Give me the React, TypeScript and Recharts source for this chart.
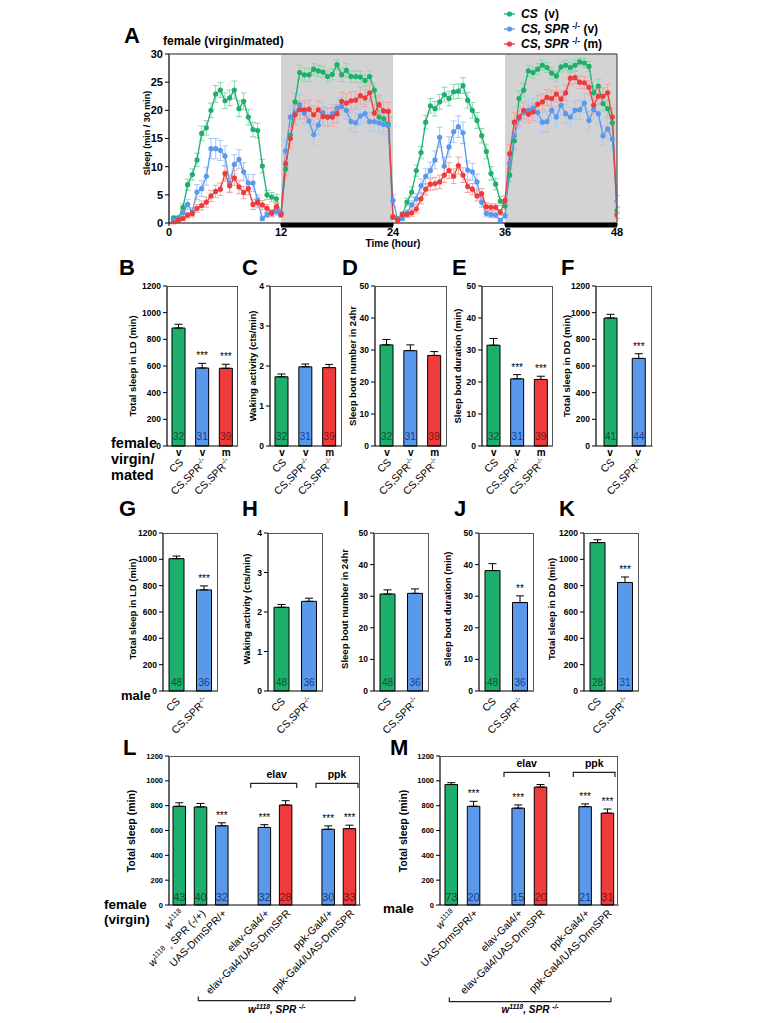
import React from 'react';
import { LineChart, Line, XAxis, YAxis, ErrorBar, ReferenceArea, BarChart, Bar, LabelList, Cell } from 'recharts';

const FONT = '"Liberation Sans", Arial, Helvetica, sans-serif';
const GREEN = '#1cb06c';
const BLUE = '#5a98ec';
const RED = '#ef3b3b';
const GREEN_ERR = '#8ad8b2';
const BLUE_ERR = '#abc8f3';
const RED_ERR = '#f5a3a3';
const FILL: Record<string, string> = { g: GREEN, b: BLUE, r: RED };
const TXT: Record<string, string> = { g: '#0d4f2f', b: '#183c86', r: '#7d1111' };

// ---------- Panel A data ----------
const hours = [0.5, 1, 1.5, 2, 2.5, 3, 3.5, 4, 4.5, 5, 5.5, 6, 6.5, 7, 7.5, 8, 8.5, 9, 9.5, 10, 10.5, 11, 11.5, 12,
  12.5, 13, 13.5, 14, 14.5, 15, 15.5, 16, 16.5, 17, 17.5, 18, 18.5, 19, 19.5, 20, 20.5, 21, 21.5, 22, 22.5, 23, 23.5, 24,
  24.5, 25, 25.5, 26, 26.5, 27, 27.5, 28, 28.5, 29, 29.5, 30, 30.5, 31, 31.5, 32, 32.5, 33, 33.5, 34, 34.5, 35, 35.5, 36,
  36.5, 37, 37.5, 38, 38.5, 39, 39.5, 40, 40.5, 41, 41.5, 42, 42.5, 43, 43.5, 44, 44.5, 45, 45.5, 46, 46.5, 47, 47.5, 48];

const csV = [0.9, 0.9, 2.8, 6.8, 8.6, 11.2, 15.9, 16.9, 20.0, 22.9, 23.6, 21.7, 22.2, 23.6, 20.3, 21.6, 18.8, 16.6, 16.4, 10.1, 5.0, 4.6, 4.3, 1.5,
  9.6, 15.6, 21.5, 26.7, 26.3, 26.3, 27.3, 27.0, 26.8, 26.0, 26.4, 28.1, 26.3, 27.1, 26.0, 26.0, 25.9, 25.3, 26.0, 23.6, 18.8, 18.5, 17.5, 1.0,
  0.8, 1.5, 3.7, 5.5, 9.3, 12.5, 17.9, 20.8, 20.3, 21.5, 22.8, 22.1, 23.3, 23.4, 24.4, 21.8, 20.0, 18.2, 15.5, 12.7, 8.8, 6.9, 3.9, 3.0,
  8.5, 14.6, 22.1, 23.6, 27.0, 26.7, 27.3, 28.0, 27.6, 26.6, 26.1, 27.7, 28.0, 27.6, 28.0, 28.6, 28.4, 27.8, 23.1, 24.3, 21.2, 20.3, 17.8, 2.2];
const csVErr = [0.3, 0.3, 0.6, 1.0, 1.0, 1.2, 1.3, 1.3, 1.3, 1.5, 1.3, 1.4, 1.4, 1.6, 1.4, 1.5, 1.4, 1.3, 1.3, 1.2, 0.8, 0.8, 0.8, 0.5,
  1.2, 1.5, 1.5, 1.3, 1.2, 1.2, 1.0, 1.0, 1.0, 1.0, 1.0, 0.9, 1.2, 1.2, 1.0, 1.0, 1.0, 1.0, 1.0, 1.2, 1.2, 1.2, 1.2, 0.4,
  0.3, 0.5, 0.7, 0.9, 1.0, 1.1, 1.2, 1.3, 1.3, 1.3, 1.3, 1.3, 1.3, 1.3, 1.4, 1.4, 1.4, 1.4, 1.3, 1.3, 1.2, 1.0, 0.8, 0.6,
  1.2, 1.5, 1.4, 1.2, 1.0, 1.0, 1.0, 0.9, 0.9, 1.0, 1.0, 0.9, 0.9, 0.9, 0.9, 0.7, 0.8, 0.9, 1.2, 1.2, 1.3, 1.4, 1.5, 0.5];

const sprV = [0.5, 0.8, 1.8, 3.3, 2.0, 5.5, 6.1, 8.3, 13.2, 13.2, 12.9, 11.9, 7.0, 10.4, 11.3, 9.1, 7.1, 7.1, 4.0, 0.8, 1.5, 1.7, 2.0, 1.8,
  12.8, 18.8, 19.5, 21.0, 19.5, 18.1, 15.7, 17.4, 19.6, 18.8, 19.4, 20.4, 20.7, 20.0, 18.0, 17.8, 19.0, 19.4, 18.0, 18.0, 17.8, 17.5, 17.3, 4.0,
  0.7, 0.8, 1.8, 3.2, 4.3, 6.6, 8.3, 9.3, 11.2, 15.2, 10.1, 13.5, 16.2, 17.1, 16.0, 9.4, 9.1, 7.3, 3.7, 1.7, 1.5, 1.4, 0.5, 1.3,
  10.5, 15.5, 18.5, 19.6, 20.0, 20.4, 19.6, 17.9, 18.0, 20.0, 18.8, 20.9, 19.4, 18.8, 20.0, 20.1, 21.3, 18.2, 20.1, 19.4, 15.5, 16.7, 14.9, 3.9];
const sprVErr = [0.3, 0.4, 0.6, 0.9, 0.7, 1.3, 1.4, 1.6, 1.8, 1.8, 1.8, 1.8, 1.5, 1.7, 1.7, 1.6, 1.5, 1.5, 1.0, 0.4, 0.5, 0.6, 0.6, 0.6,
  1.8, 2.0, 2.0, 1.8, 1.8, 1.8, 1.7, 1.7, 1.7, 1.6, 1.6, 1.6, 1.6, 1.6, 1.7, 1.7, 1.6, 1.6, 1.6, 1.7, 1.7, 1.7, 1.6, 1.0,
  0.3, 0.4, 0.6, 0.8, 0.9, 1.2, 1.4, 1.5, 1.6, 1.8, 1.6, 1.8, 1.9, 1.9, 1.9, 1.6, 1.5, 1.4, 0.9, 0.6, 0.5, 0.5, 0.3, 0.5,
  1.8, 2.0, 1.8, 1.7, 1.7, 1.7, 1.7, 1.8, 1.8, 1.7, 1.7, 1.7, 1.7, 1.7, 1.7, 1.7, 1.7, 1.7, 1.8, 1.7, 1.7, 1.8, 1.8, 1.0];

const sprM = [0.0, 0.5, 0.8, 1.4, 1.7, 2.6, 3.1, 3.7, 4.8, 5.6, 6.0, 8.8, 6.6, 8.0, 6.4, 5.4, 6.1, 3.3, 3.6, 3.2, 2.6, 1.8, 2.9, 1.5,
  10.5, 15.0, 19.2, 20.1, 20.1, 20.2, 19.2, 20.1, 18.9, 18.8, 18.8, 19.4, 21.6, 21.3, 21.7, 21.8, 22.6, 22.2, 23.1, 19.5, 21.0, 19.9, 19.8, 1.1,
  0.5, 1.5, 1.5, 1.8, 2.5, 4.3, 6.0, 6.9, 7.0, 7.3, 8.5, 9.3, 8.3, 10.2, 8.5, 6.5, 6.0, 4.8, 5.2, 2.9, 2.8, 2.8, 1.9, 4.0,
  12.3, 17.9, 18.8, 20.0, 19.3, 19.7, 21.1, 21.5, 22.3, 22.1, 22.9, 22.0, 23.1, 25.7, 25.8, 25.0, 24.9, 24.1, 20.9, 22.5, 22.5, 23.1, 18.8, 1.4];
const sprMErr = [0.2, 0.3, 0.4, 0.5, 0.6, 0.7, 0.8, 0.9, 1.0, 1.1, 1.1, 1.4, 1.2, 1.3, 1.2, 1.1, 1.1, 0.9, 0.9, 0.8, 0.7, 0.6, 0.7, 0.5,
  1.6, 1.8, 1.7, 1.6, 1.6, 1.6, 1.6, 1.6, 1.6, 1.6, 1.6, 1.6, 1.6, 1.6, 1.6, 1.6, 1.5, 1.5, 1.5, 1.6, 1.6, 1.6, 1.6, 0.4,
  0.3, 0.4, 0.5, 0.6, 0.7, 0.9, 1.0, 1.1, 1.1, 1.2, 1.3, 1.4, 1.3, 1.5, 1.3, 1.1, 1.0, 0.9, 0.9, 0.7, 0.6, 0.6, 0.5, 0.8,
  1.6, 1.7, 1.6, 1.5, 1.5, 1.5, 1.5, 1.4, 1.4, 1.4, 1.4, 1.4, 1.4, 1.2, 1.1, 1.1, 1.1, 1.2, 1.3, 1.4, 1.5, 1.5, 1.6, 0.6];

const darkPeriods = [[12, 24], [36, 48]];
const hourTicks = [0, 12, 24, 36, 48];
const sleepTicks = [0, 5, 10, 15, 20, 25, 30];
const legendLabels = ['~CS~  (v)', '~CS, SPR~ ^-/-^ (v)', '~CS, SPR~ ^-/-^ (m)'];
const legendColors = [GREEN, BLUE, RED];

// ---------- Bar panel data ----------
const ticks1200 = [0, 200, 400, 600, 800, 1000, 1200];
const ticks4 = [0, 1, 2, 3, 4];
const ticks50 = [0, 10, 20, 30, 40, 50];

const femaleGenos = ['CS', 'CS,SPR^-/-^', 'CS,SPR^-/-^'];
const femaleStatus = ['v', 'v', 'm'];
const femaleColors = ['g', 'b', 'r'];
const femaleN = [32, 31, 39];
const ddGenos = ['CS', 'CS,SPR^-/-^'];
const ddStatus = ['v', 'v'];
const ddColors = ['g', 'b'];
const ddN = [41, 44];
const maleGenos = ['CS', 'CS,SPR^-/-^'];
const maleColors = ['g', 'b'];
const maleN = [48, 36];
const maleDDN = [28, 31];

const sleepLDf = [885, 585, 583];
const sleepLDfErr = [28, 35, 30];
const sleepLDfSig = ['', '***', '***'];
const wakeF = [1.73, 1.98, 1.96];
const wakeFErr = [0.07, 0.07, 0.08];
const boutsF = [31.6, 29.8, 28.3];
const boutsFErr = [1.7, 1.8, 1.2];
const boutDurF = [31.5, 21.0, 20.8];
const boutDurFErr = [2.1, 1.3, 1.0];
const boutDurFSig = ['', '***', '***'];
const sleepDDf = [960, 657];
const sleepDDfErr = [28, 35];
const sleepDDfSig = ['', '***'];
const noSig3 = ['', '', ''];
const noSig2 = ['', ''];

const sleepLDm = [1005, 768];
const sleepLDmErr = [20, 30];
const sleepLDmSig = ['', '***'];
const wakeM = [2.12, 2.27];
const wakeMErr = [0.07, 0.08];
const boutsM = [30.7, 30.9];
const boutsMErr = [1.3, 1.4];
const boutDurM = [38.1, 28.0];
const boutDurMErr = [2.2, 2.1];
const boutDurMSig = ['', '**'];
const sleepDDm = [1127, 824];
const sleepDDmErr = [22, 42];
const sleepDDmSig = ['', '***'];

const lGenos = ['~w~^1118^', '~w~^1118^ , SPR (-/+)', 'UAS-DrmSPR/+', '', 'elav-Gal4/+', 'elav-Gal4/UAS-DrmSPR', '', 'ppk-Gal4/+', 'ppk-Gal4/UAS-DrmSPR'];
const lValues = [795, 790, 638, null, 625, 805, null, 610, 615];
const lErr = [28, 28, 24, null, 22, 35, null, 27, 28];
const lN = [43, 40, 32, null, 32, 28, null, 30, 33];
const lColors = ['g', 'g', 'b', '', 'b', 'r', '', 'b', 'r'];
const lSig = ['', '', '***', '', '***', '', '', '***', '***'];

const mGenos = ['~w~^1118^', 'UAS-DrmSPR/+', '', 'elav-Gal4/+', 'elav-Gal4/UAS-DrmSPR', '', 'ppk-Gal4/+', 'ppk-Gal4/UAS-DrmSPR'];
const mValues = [970, 795, null, 780, 950, null, 792, 740];
const mErr = [15, 40, null, 26, 20, null, 22, 33];
const mN = [73, 20, null, 15, 20, null, 21, 31];
const mColors = ['g', 'b', '', 'b', 'r', '', 'b', 'r'];
const mSig = ['', '***', '', '***', '', '', '***', '***'];

// ---------- helpers ----------
function rich(s: string, fs: number) {
  const parts: { t: string; it: boolean; sup: boolean }[] = [];
  let it = false, sup = false, buf = '';
  const flush = () => { if (buf) { parts.push({ t: buf, it, sup }); buf = ''; } };
  for (const ch of s) {
    if (ch === '~') { flush(); it = !it; }
    else if (ch === '^') { flush(); sup = !sup; }
    else buf += ch;
  }
  flush();
  let cur = 0;
  return parts.map((p, i) => {
    const target = p.sup ? -fs * 0.38 : 0;
    const dy = target - cur;
    cur = target;
    return (
      <tspan key={i} dy={dy} fontSize={p.sup ? fs * 0.68 : fs} fontStyle={p.it ? 'italic' : 'normal'}>{p.t}</tspan>
    );
  });
}

type Spec = {
  x: number; y: number; w: number; h: number;
  labels: string[]; subs: string[] | null;
  values: (number | null)[]; errs: (number | null)[]; ns: (number | null)[];
  sigs: string[]; colors: string[];
  yMax: number; ticks: number[]; barSize: number;
  tickFs: number; labelFs: number; nFs: number; nOff: number;
  labelDx: number; labelDy: number; subDy: number; xAxisH: number; yW: number;
};

function BarPanel({ s }: { s: Spec }) {
  const mt = 8, mr = 3;
  const data = s.labels.map((lab, i) => ({
    key: 'k' + i,
    label: lab,
    sub: s.subs ? s.subs[i] : '',
    value: s.values[i],
    errV: s.errs[i],
    errArr: s.errs[i] == null ? null : [0, s.errs[i]],
    n: s.ns[i],
    sig: s.sigs[i],
    c: s.colors[i],
  }));
  const ppu = s.h / s.yMax;
  const renderTick = (props: any) => {
    const { x, y, payload } = props;
    const d = data.find((e) => e.key === payload.value);
    if (!d) return <g />;
    return (
      <g>
        {d.sub ? (
          <text x={x} y={y + s.subDy} textAnchor="middle" fontSize={10} fontWeight="bold" fill="#000">{d.sub}</text>
        ) : null}
        {d.label ? (
          <text transform={`translate(${x + s.labelDx},${y + s.labelDy}) rotate(-45)`} textAnchor="end" fontSize={s.labelFs} fill="#000" style={{ whiteSpace: 'pre' }}>
            {rich(d.label, s.labelFs)}
          </text>
        ) : null}
      </g>
    );
  };
  const nContent = (props: any) => {
    const { value } = props;
    if (value == null || value === '') return null;
    const vb = props.viewBox && props.viewBox.width != null ? props.viewBox : props;
    const { x, y, width, height } = vb;
    const [n, c] = String(value).split('|');
    const bottom = Math.max(y, y + height);
    return <text x={x + width / 2} y={bottom - s.nOff} textAnchor="middle" fontSize={s.nFs} fill={TXT[c]}>{n}</text>;
  };
  const sigContent = (props: any) => {
    const { value } = props;
    if (value == null || value === '') return null;
    const vb = props.viewBox && props.viewBox.width != null ? props.viewBox : props;
    const { x, y, width, height } = vb;
    const [sig, e] = String(value).split('|');
    const top = Math.min(y, y + height);
    return <text x={x + width / 2} y={top - Number(e) * ppu - 4} textAnchor="middle" fontSize={10} fill="#000">{sig}</text>;
  };
  return (
    <>
      <div style={{ position: 'absolute', left: s.x - s.yW, top: s.y - mt }}>
        <BarChart width={s.yW + s.w + mr} height={mt + s.h + s.xAxisH} data={data} margin={{ top: mt, right: mr, left: 0, bottom: 0 }} barCategoryGap={0}>
          <XAxis dataKey="key" type="category" interval={0} axisLine={{ stroke: '#000', strokeWidth: 1.2 }} tickLine={false} tickSize={0} tickMargin={0} height={s.xAxisH} tick={renderTick} />
          <YAxis domain={[0, s.yMax]} ticks={s.ticks} interval={0} width={s.yW} axisLine={{ stroke: '#000', strokeWidth: 1.2 }} tickLine={{ stroke: '#000' }} tickSize={4} tickMargin={2} tick={{ fontSize: s.tickFs, fontWeight: 'bold', fill: '#000' }} />
          <Bar dataKey="value" barSize={s.barSize} stroke="#000" strokeWidth={1} isAnimationActive={false}>
            {data.map((d, i) => <Cell key={i} fill={FILL[d.c] || '#fff'} />)}
            <ErrorBar dataKey="errArr" width={4} stroke="#000" strokeWidth={1} direction="y" isAnimationActive={false} />
            <LabelList dataKey={(d: any) => (d.n == null ? null : `${d.n}|${d.c}`)} content={nContent} />
            <LabelList dataKey={(d: any) => (d.sig ? `${d.sig}|${d.errV}` : null)} content={sigContent} />
          </Bar>
        </BarChart>
      </div>
      <div style={{ position: 'absolute', left: s.x, top: s.y, width: s.w, height: s.h, boxSizing: 'border-box', borderTop: '1px solid #555', borderRight: '1px solid #555', pointerEvents: 'none' }} />
    </>
  );
}

const row1 = { y: 286, h: 160, barSize: 13, tickFs: 8.5, labelFs: 10.5, nFs: 10, nOff: 6, labelDx: 5, labelDy: 17, subDy: 9.5, xAxisH: 66, yW: 36 };
const row2 = { y: 533, h: 158, barSize: 15, tickFs: 8.5, labelFs: 10.5, nFs: 10, nOff: 5, labelDx: 4, labelDy: 11, subDy: 0, xAxisH: 58, yW: 36 };
const row3 = { y: 756, h: 149, barSize: 12.5, tickFs: 7.5, labelFs: 10.5, nFs: 11, nOff: 4, labelDx: 5, labelDy: 9, subDy: 0, xAxisH: 100, yW: 34 };

const specs: Spec[] = [
  { ...row1, x: 167, w: 71, labels: femaleGenos, subs: femaleStatus, values: sleepLDf, errs: sleepLDfErr, ns: femaleN, sigs: sleepLDfSig, colors: femaleColors, yMax: 1200, ticks: ticks1200 },
  { ...row1, x: 270, w: 71.5, labels: femaleGenos, subs: femaleStatus, values: wakeF, errs: wakeFErr, ns: femaleN, sigs: noSig3, colors: femaleColors, yMax: 4, ticks: ticks4 },
  { ...row1, x: 375, w: 71.5, labels: femaleGenos, subs: femaleStatus, values: boutsF, errs: boutsFErr, ns: femaleN, sigs: noSig3, colors: femaleColors, yMax: 50, ticks: ticks50 },
  { ...row1, x: 481.5, w: 71, labels: femaleGenos, subs: femaleStatus, values: boutDurF, errs: boutDurFErr, ns: femaleN, sigs: boutDurFSig, colors: femaleColors, yMax: 50, ticks: ticks50 },
  { ...row1, x: 595.5, w: 56.5, labels: ddGenos, subs: ddStatus, values: sleepDDf, errs: sleepDDfErr, ns: ddN, sigs: sleepDDfSig, colors: ddColors, yMax: 1200, ticks: ticks1200 },
  { ...row2, x: 163, w: 55, labels: maleGenos, subs: null, values: sleepLDm, errs: sleepLDmErr, ns: maleN, sigs: sleepLDmSig, colors: maleColors, yMax: 1200, ticks: ticks1200 },
  { ...row2, x: 268, w: 55, labels: maleGenos, subs: null, values: wakeM, errs: wakeMErr, ns: maleN, sigs: noSig2, colors: maleColors, yMax: 4, ticks: ticks4 },
  { ...row2, x: 373.5, w: 55, labels: maleGenos, subs: null, values: boutsM, errs: boutsMErr, ns: maleN, sigs: noSig2, colors: maleColors, yMax: 50, ticks: ticks50 },
  { ...row2, x: 478.5, w: 55, labels: maleGenos, subs: null, values: boutDurM, errs: boutDurMErr, ns: maleN, sigs: boutDurMSig, colors: maleColors, yMax: 50, ticks: ticks50 },
  { ...row2, x: 583.5, w: 55, labels: maleGenos, subs: null, values: sleepDDm, errs: sleepDDmErr, ns: maleDDN, sigs: sleepDDmSig, colors: maleColors, yMax: 1200, ticks: ticks1200 },
  { ...row3, x: 168.5, w: 191.5, labels: lGenos, subs: null, values: lValues, errs: lErr, ns: lN, sigs: lSig, colors: lColors, yMax: 1200, ticks: ticks1200 },
  { ...row3, x: 439.5, w: 178.5, labels: mGenos, subs: null, values: mValues, errs: mErr, ns: mN, sigs: mSig, colors: mColors, yMax: 1200, ticks: ticks1200 },
];

const yTitles: [number, number, string, number][] = [
  [147, 133, 'Sleep (min / 30 min)', 9],
  [132.5, 366, 'Total sleep in LD (min)', 9.5],
  [252, 366, 'Waking activity (cts/min)', 9.5],
  [352.5, 366, 'Sleep bout number in 24hr', 9.5],
  [457.5, 366, 'Sleep bout duration (min)', 9.5],
  [566, 366, 'Total sleep in DD (min)', 9.5],
  [132, 609, 'Total sleep in LD (min)', 9.5],
  [246, 609, 'Waking activity (cts/min)', 9.5],
  [344, 609, 'Sleep bout number in 24hr', 9.5],
  [447.5, 609, 'Sleep bout duration (min)', 9.5],
  [551.5, 609, 'Total sleep in DD (min)', 9.5],
  [131, 831, 'Total sleep (min)', 10.5],
  [403, 831, 'Total sleep (min)', 10.5],
];

const letters: [string, number, number][] = [
  ['A', 124, 43], ['B', 119, 275], ['C', 242, 275], ['D', 342, 275], ['E', 452, 275], ['F', 561, 275],
  ['G', 119, 516], ['H', 242, 516], ['I', 343, 516], ['J', 454, 516], ['K', 559, 516],
  ['L', 123, 755], ['M', 390, 755],
];

export default function App() {
  const aData = hours.map((t, i) => ({ t, g: csV[i], ge: csVErr[i], b: sprV[i], be: sprVErr[i], r: sprM[i], re: sprMErr[i] }));
  return (
    <div style={{ position: 'absolute', left: 0, top: 0, width: 767, height: 1023, background: '#fff', fontFamily: FONT, overflow: 'hidden' }}>
      {/* Panel A */}
      <div style={{ position: 'absolute', left: 129, top: 49 }}>
        <LineChart width={502} height={199} data={aData} margin={{ top: 5, right: 14, left: 0, bottom: 0 }}>
          {darkPeriods.map((p, i) => (
            <ReferenceArea key={'s' + i} x1={p[0]} x2={p[1]} y1={0} y2={30} fill="#d3d3d3" fillOpacity={1} stroke="none" ifOverflow="visible" />
          ))}
          {darkPeriods.map((p, i) => (
            <ReferenceArea key={'d' + i} x1={p[0]} x2={p[1]} y1={-0.8} y2={0} fill="#000" fillOpacity={1} stroke="none" ifOverflow="visible" />
          ))}
          <XAxis dataKey="t" type="number" domain={[0, 48]} ticks={hourTicks} interval={0} height={25} axisLine={{ stroke: '#000', strokeWidth: 1.2 }} tickLine={{ stroke: '#000' }} tickSize={3} tickMargin={2} tick={{ fontSize: 11, fontWeight: 'bold', fill: '#000' }} allowDataOverflow />
          <YAxis domain={[0, 30]} ticks={sleepTicks} interval={0} width={40} axisLine={{ stroke: '#000', strokeWidth: 1.2 }} tickLine={{ stroke: '#000' }} tickSize={4} tickMargin={2} tick={{ fontSize: 11, fontWeight: 'bold', fill: '#000' }} allowDataOverflow />
          <Line dataKey="g" stroke={GREEN} strokeWidth={1.3} dot={{ r: 2.6, fill: GREEN, stroke: 'none' }} activeDot={false} isAnimationActive={false}>
            <ErrorBar dataKey="ge" width={3} stroke={GREEN_ERR} strokeWidth={1} direction="y" isAnimationActive={false} />
          </Line>
          <Line dataKey="b" stroke={BLUE} strokeWidth={1.3} dot={{ r: 2.6, fill: BLUE, stroke: 'none' }} activeDot={false} isAnimationActive={false}>
            <ErrorBar dataKey="be" width={3} stroke={BLUE_ERR} strokeWidth={1} direction="y" isAnimationActive={false} />
          </Line>
          <Line dataKey="r" stroke={RED} strokeWidth={1.3} dot={{ r: 2.6, fill: RED, stroke: 'none' }} activeDot={false} isAnimationActive={false}>
            <ErrorBar dataKey="re" width={3} stroke={RED_ERR} strokeWidth={1} direction="y" isAnimationActive={false} />
          </Line>
        </LineChart>
      </div>

      {specs.map((s, i) => <BarPanel key={i} s={s} />)}

      <svg width={767} height={1023} style={{ position: 'absolute', left: 0, top: 0, pointerEvents: 'none' }}>
        {/* A frame */}
        <line x1={169} y1={54} x2={617} y2={54} stroke="#666" strokeWidth={1.4} />
        <line x1={617} y1={54} x2={617} y2={222.5} stroke="#666" strokeWidth={1.4} />
        {letters.map(([t, x, y]) => (
          <text key={t} x={x} y={y} fontSize={22} fontWeight="bold" fill="#000">{t}</text>
        ))}
        <text x={163} y={45} fontSize={12} fontWeight="bold" fill="#000">female (virgin/mated)</text>
        {legendLabels.map((lab, i) => (
          <g key={i}>
            <line x1={504} x2={515} y1={14 + 15 * i} y2={14 + 15 * i} stroke={legendColors[i]} strokeWidth={1.3} />
            <circle cx={509.5} cy={14 + 15 * i} r={2.6} fill={legendColors[i]} />
            <text x={521} y={18.3 + 15 * i} fontSize={12} fontWeight="bold" fill="#000" style={{ whiteSpace: 'pre' }}>{rich(lab, 12)}</text>
          </g>
        ))}
        <text x={393} y={247} textAnchor="middle" fontSize={10} fontWeight="bold" fill="#000">Time (hour)</text>
        {yTitles.map(([x, y, t, fs], i) => (
          <text key={i} transform={`translate(${x},${y}) rotate(-90)`} textAnchor="middle" dominantBaseline="central" fontSize={fs} fontWeight="bold" fill="#000">{t}</text>
        ))}
        {/* row labels */}
        <text x={111} y={448} fontSize={14.5} fontWeight="bold" fill="#000">female</text>
        <text x={111} y={464} fontSize={14.5} fontWeight="bold" fill="#000">virgin/</text>
        <text x={111} y={480} fontSize={14.5} fontWeight="bold" fill="#000">mated</text>
        <text x={121} y={700} fontSize={13} fontWeight="bold" fill="#000">male</text>
        <text x={104} y={909} fontSize={13.5} fontWeight="bold" fill="#000">female</text>
        <text x={104} y={924} fontSize={13.5} fontWeight="bold" fill="#000">(virgin)</text>
        <text x={383} y={913} fontSize={13.5} fontWeight="bold" fill="#000">male</text>
        {/* brackets L */}
        <path d="M250.7,788 L250.7,783.3 L296.7,783.3 L296.7,788" fill="none" stroke="#222" strokeWidth={1.2} />
        <text x={276.7} y={778} textAnchor="middle" fontSize={10.5} fontWeight="bold" fill="#000">elav</text>
        <path d="M316,788 L316,783.3 L358,783.3 L358,788" fill="none" stroke="#222" strokeWidth={1.2} />
        <text x={337} y={778} textAnchor="middle" fontSize={10.5} fontWeight="bold" fill="#000">ppk</text>
        <path d="M198.3,996.5 L198.3,1000.7 L355,1000.7 L355,996.5" fill="none" stroke="#222" strokeWidth={1.2} />
        <text x={276.7} y={1013} textAnchor="middle" fontSize={10} fontWeight="bold" fill="#000" style={{ whiteSpace: 'pre' }}>{rich('~w^1118^, SPR ^-/-^~', 10)}</text>
        {/* brackets M */}
        <path d="M504,777 L504,772.3 L549.3,772.3 L549.3,777" fill="none" stroke="#222" strokeWidth={1.2} />
        <text x={526.7} y={767} textAnchor="middle" fontSize={10.5} fontWeight="bold" fill="#000">elav</text>
        <path d="M573.3,777 L573.3,772.3 L615,772.3 L615,777" fill="none" stroke="#222" strokeWidth={1.2} />
        <text x={594.3} y={767} textAnchor="middle" fontSize={10.5} fontWeight="bold" fill="#000">ppk</text>
        <path d="M449.3,997.5 L449.3,1001.7 L611,1001.7 L611,997.5" fill="none" stroke="#222" strokeWidth={1.2} />
        <text x={530} y={1013} textAnchor="middle" fontSize={10} fontWeight="bold" fill="#000" style={{ whiteSpace: 'pre' }}>{rich('~w^1118^, SPR ^-/-^~', 10)}</text>
      </svg>
    </div>
  );
}
